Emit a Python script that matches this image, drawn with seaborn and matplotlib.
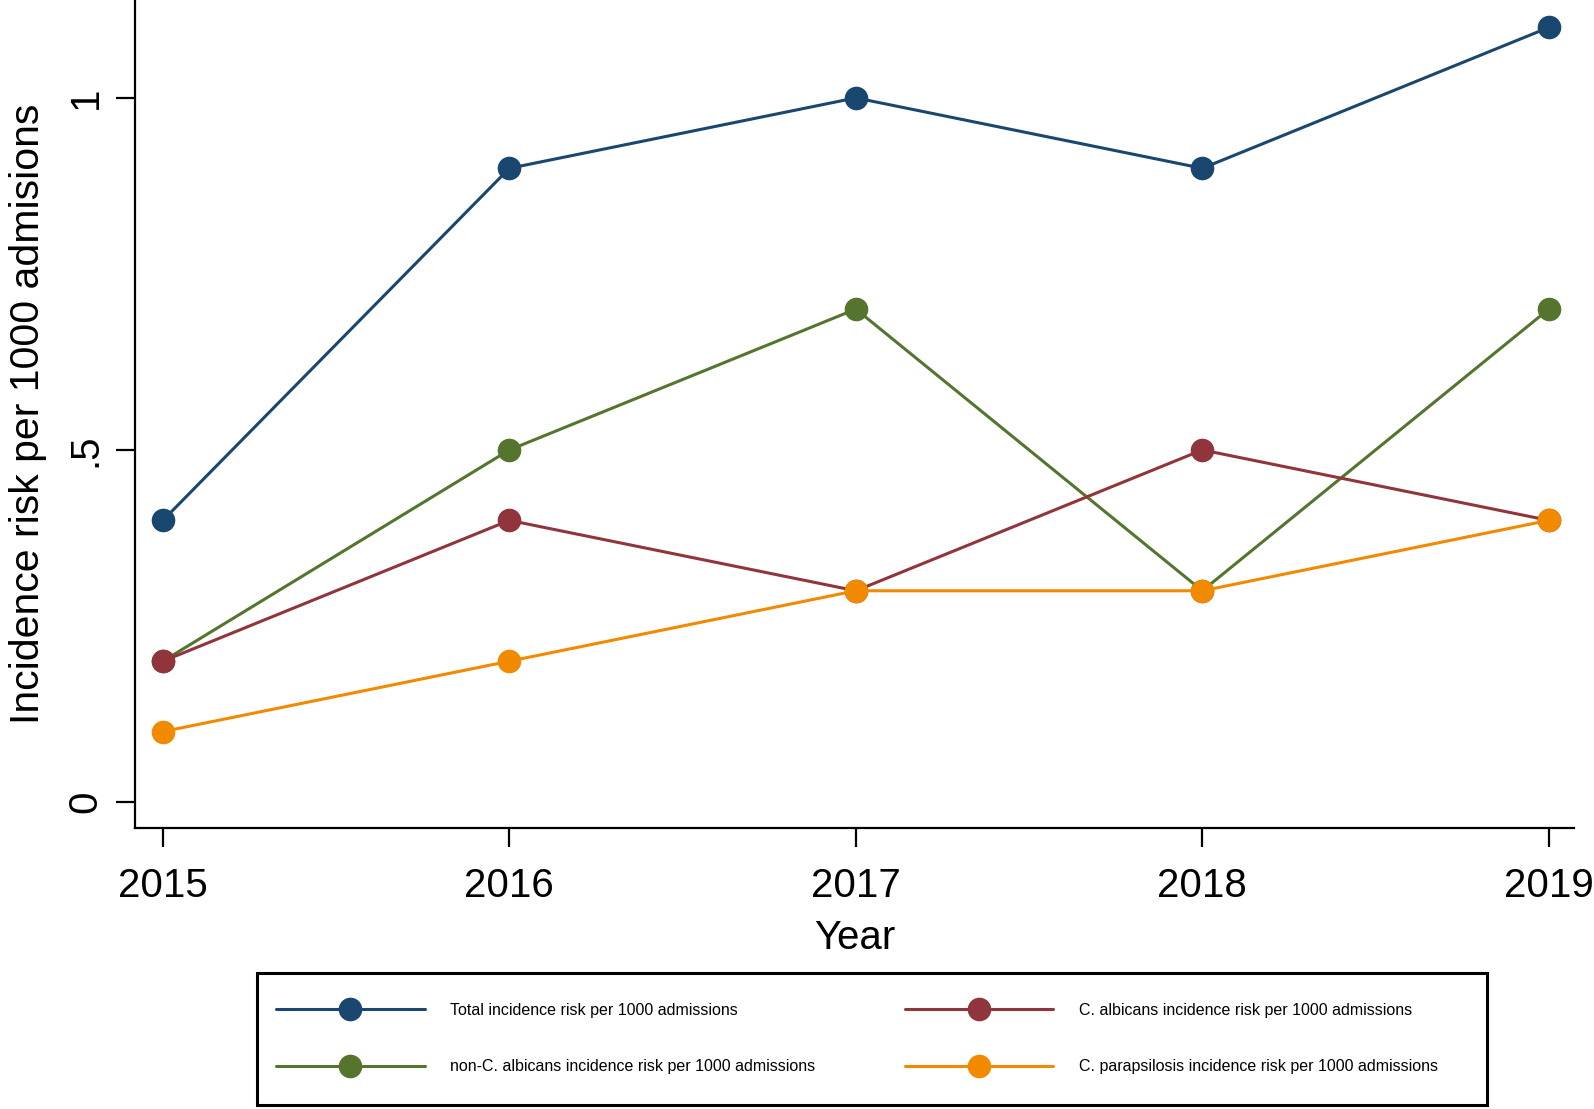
import numpy as np
import pandas as pd
import matplotlib
matplotlib.use("Agg")
import matplotlib.pyplot as plt
from matplotlib.patches import Rectangle
import seaborn as sns

# data
years = [2015, 2016, 2017, 2018, 2019]
total = [0.4, 0.9, 1.0, 0.9, 1.1]
non_albicans = [0.2, 0.5, 0.7, 0.3, 0.7]
albicans = [0.2, 0.4, 0.3, 0.5, 0.4]
parapsilosis = [0.1, 0.2, 0.3, 0.3, 0.4]

labels = [
    "Total incidence risk per 1000 admissions",
    "non-C. albicans incidence risk per 1000 admissions",
    "C. albicans incidence risk per 1000 admissions",
    "C. parapsilosis incidence risk per 1000 admissions",
]
colors = ["#1a476f", "#55752f", "#90353b", "#f28a00"]

df = pd.concat([
    pd.DataFrame({"year": years, "risk": vals, "series": lab})
    for vals, lab in zip([total, non_albicans, albicans, parapsilosis], labels)
])

sns.set_style("white")
plt.rcParams["font.family"] = ["Liberation Sans", "DejaVu Sans"]
plt.rcParams["text.color"] = "black"
plt.rcParams["axes.labelcolor"] = "black"
plt.rcParams["xtick.color"] = "black"
plt.rcParams["ytick.color"] = "black"

fig = plt.figure(figsize=(15.94, 11.09), dpi=100)
ax = fig.add_axes([0.0848, 0.253, 0.9027, 0.747])

sns.lineplot(data=df, x="year", y="risk", hue="series", hue_order=labels,
             palette=colors, marker="o", markersize=17, linewidth=2.2,
             markeredgewidth=0, ax=ax, legend=False, sort=False)

ax.set_xlim(2014.92, 2019.073)
ax.set_ylim(-0.0375, 1.139)
ax.set_xticks(years)
ax.set_xticklabels([str(y) for y in years])
ax.set_yticks([0, 0.5, 1])
ax.set_yticklabels(["0", ".5", "1"], rotation=90, va="center")
ax.tick_params(axis="both", direction="out", length=14, width=1.6,
               labelsize=29, color="black", pad=8, left=True, bottom=True)
ax.tick_params(axis="x", pad=14)
for s in ["top", "right"]:
    ax.spines[s].set_visible(False)
for s in ["left", "bottom"]:
    ax.spines[s].set_color("black")
    ax.spines[s].set_linewidth(1.6)
ax.set_xlabel("Year", fontsize=29, labelpad=10)
ax.set_ylabel("Incidence risk per 1000 admisions", fontsize=29.5, labelpad=14)

# legend box
fig.patches.append(Rectangle((0.161, 0.004), 0.772, 0.119, transform=fig.transFigure,
                             facecolor="white", edgecolor="black", linewidth=2.2))
handles = [plt.Line2D([], [], color=c, marker="o", markersize=17, linewidth=2.2,
                      markeredgewidth=0) for c in colors]
fig.legend(handles, labels, ncol=2, loc="center",
           bbox_to_anchor=(0.5377, 0.0635), frameon=False,
           prop={"family": ["Liberation Sans Narrow", "Liberation Sans"], "size": 11.5},
           handlelength=9.3, handletextpad=1.6, columnspacing=5.6, labelspacing=2.6)

fig.savefig("out.png", dpi=100)
